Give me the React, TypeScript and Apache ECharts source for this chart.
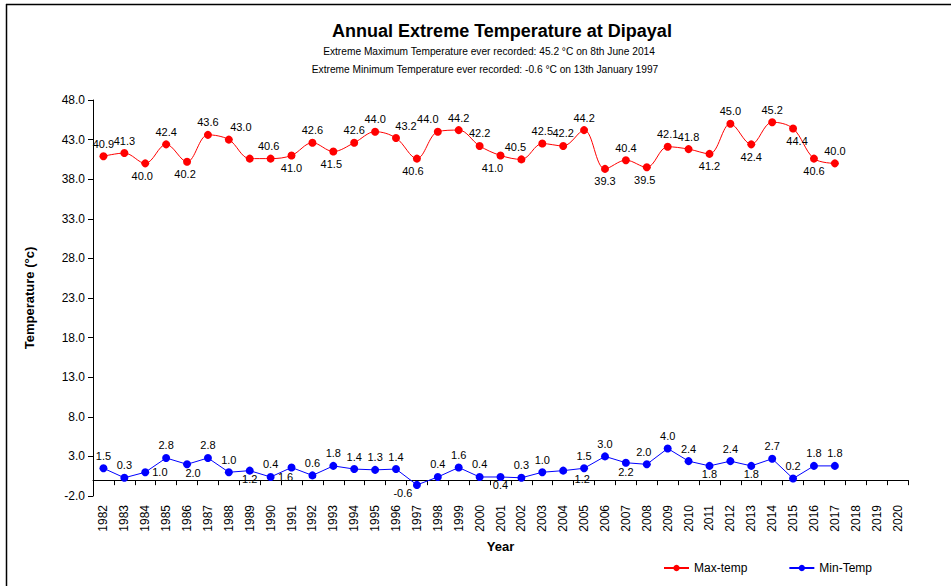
import React, { useEffect, useRef } from "react";
import * as echarts from "echarts";

const years = [
  "1982", "1983", "1984", "1985", "1986", "1987", "1988", "1989", "1990", "1991",
  "1992", "1993", "1994", "1995", "1996", "1997", "1998", "1999", "2000", "2001",
  "2002", "2003", "2004", "2005", "2006", "2007", "2008", "2009", "2010", "2011",
  "2012", "2013", "2014", "2015", "2016", "2017", "2018", "2019", "2020",
];

const maxTemp = [
  40.9, 41.3, 40.0, 42.4, 40.2, 43.6, 43.0, 40.6, 40.6, 41.0,
  42.6, 41.5, 42.6, 44.0, 43.2, 40.6, 44.0, 44.2, 42.2, 41.0,
  40.5, 42.5, 42.2, 44.2, 39.3, 40.4, 39.5, 42.1, 41.8, 41.2,
  45.0, 42.4, 45.2, 44.4, 40.6, 40.0,
];

const minTemp = [
  1.5, 0.3, 1.0, 2.8, 2.0, 2.8, 1.0, 1.2, 0.4, 1.6,
  0.6, 1.8, 1.4, 1.3, 1.4, -0.6, 0.4, 1.6, 0.4, 0.4,
  0.3, 1.0, 1.2, 1.5, 3.0, 2.2, 2.0, 4.0, 2.4, 1.8,
  2.4, 1.8, 2.7, 0.2, 1.8, 1.8,
];

const yAxisMin = -2;
const yAxisMax = 48;
const yStep = 5;

// label placement (style only): [position, dx, dy]
const maxLabelPlace: [string, number, number][] = [
  ["t", 0, 0], ["t", 0, 0], ["b", -3, 0], ["t", 0, 0], ["b", -2, 0], ["t", 0, 0], ["t", 12, 0], ["n", 0, 0], ["t", -2, 0], ["b", 0, 0],
  ["t", 0, 0], ["b", -2, 0], ["t", 0, 0], ["t", 0, 0], ["t", 10, 0], ["b", -4, 0], ["t", -10, 0], ["t", 0, 0], ["t", 0, 0], ["b", -8, 0],
  ["t", -6, 0], ["t", 0, 0], ["t", 0, 0], ["t", 0, 0], ["b", 0, 0], ["t", 0, 0], ["b", -2, 0], ["t", 0, 0], ["t", 0, 0], ["b", 0, 0],
  ["t", 0, 0], ["b", 0, 0], ["t", 0, 0], ["b", 4, 0], ["b", 0, 0], ["t", 0, 0],
];

const minLabelPlace: [string, number, number][] = [
  ["t", 0, 0], ["t", 0, 0], ["r", 0, 0], ["t", 0, 0], ["b", 6, -4], ["t", 0, 0], ["t", 0, 0], ["b", 0, -4], ["t", 0, 0], ["b", -6, -3],
  ["t", 0, 0], ["t", 0, 0], ["t", 0, 0], ["t", 0, 0], ["t", 0, 0], ["b", -14, -4], ["t", 0, 0], ["t", 0, 0], ["t", 0, 0], ["b", 0, -4],
  ["t", 0, 0], ["t", 0, 0], ["b", 19, -4], ["t", 0, 0], ["t", 0, 0], ["b", 0, -3], ["t", -3, 0], ["t", 0, 0], ["t", 0, 0], ["b", 0, -4],
  ["t", 0, 0], ["b", 0, -4], ["t", 0, 0], ["t", 0, 0], ["t", 0, 0], ["t", 0, 0],
];

const FONT = "'Liberation Sans', Arial, sans-serif";

function labelFor(place: [string, number, number]) {
  const [p, dx, dy] = place;
  if (p === "n") return { show: false };
  const position = p === "t" ? "top" : p === "b" ? "bottom" : p === "l" ? "left" : "right";
  return { show: true, position, offset: [dx, dy] };
}

export default function App() {
  const ref = useRef<HTMLDivElement>(null);

  useEffect(() => {
    if (!ref.current) return;
    const chart = echarts.init(ref.current, undefined, { renderer: "svg" });

    const commonLabel = {
      show: true,
      fontSize: 11,
      color: "#000",
      fontFamily: FONT,
      distance: 3,
      formatter: (p: any) => Number(p.value).toFixed(1),
    };

    chart.setOption({
      animation: false,
      backgroundColor: "#fff",
      textStyle: { fontFamily: FONT },
      grid: { left: 93, right: 43, top: 100, bottom: 90, containLabel: false },
      graphic: [
        {
          type: "line",
          shape: { x1: 6, y1: 4.5, x2: 951, y2: 4.5 },
          style: { stroke: "#000", lineWidth: 1.5 },
        },
        {
          type: "line",
          shape: { x1: 6.5, y1: 4, x2: 6.5, y2: 586 },
          style: { stroke: "#000", lineWidth: 1.5 },
        },
        {
          type: "text",
          x: 502,
          y: 31,
          style: {
            text: "Annual Extreme Temperature at Dipayal",
            font: `bold 18px ${FONT}`,
            fill: "#000",
            textAlign: "center",
            textVerticalAlign: "middle",
          },
        },
        {
          type: "text",
          x: 489,
          y: 51,
          style: {
            text: "Extreme Maximum Temperature ever recorded: 45.2 °C on 8th June 2014",
            font: `10.2px ${FONT}`,
            fill: "#000",
            textAlign: "center",
            textVerticalAlign: "middle",
          },
        },
        {
          type: "text",
          x: 485,
          y: 69,
          style: {
            text: "Extreme Minimum Temperature ever recorded: -0.6 °C on 13th January 1997",
            font: `10.2px ${FONT}`,
            fill: "#000",
            textAlign: "center",
            textVerticalAlign: "middle",
          },
        },
      ],
      legend: {
        left: 658,
        top: 557,
        itemWidth: 25,
        itemHeight: 8,
        itemGap: 41,
        textStyle: { fontSize: 12, color: "#000", fontFamily: FONT },
        data: ["Max-temp", "Min-Temp"],
      },
      xAxis: {
        type: "category",
        data: years,
        boundaryGap: true,
        name: "Year",
        nameLocation: "middle",
        nameGap: 42,
        nameTextStyle: { fontSize: 13, fontWeight: "bold", color: "#000", fontFamily: FONT },
        axisLine: { lineStyle: { color: "#000", width: 1 } },
        axisTick: { show: true, interval: 0, length: 5, lineStyle: { color: "#000" } },
        axisLabel: { interval: 0, rotate: 90, fontSize: 12, color: "#000", margin: 9, fontFamily: FONT },
        splitLine: { show: false },
      },
      yAxis: [
        {
          type: "value",
          min: yAxisMin,
          max: yAxisMax,
          show: false,
          splitLine: { show: false },
        },
        {
          type: "value",
          position: "left",
          min: 0,
          max: yAxisMax - yAxisMin,
          interval: yStep,
          name: "Temperature (°c)",
          nameLocation: "middle",
          nameGap: 57,
          nameTextStyle: { fontSize: 13, fontWeight: "bold", color: "#000", fontFamily: FONT },
          axisLine: { show: true, lineStyle: { color: "#000", width: 1 } },
          axisTick: { show: true, length: 5, lineStyle: { color: "#000" } },
          axisLabel: {
            fontSize: 12,
            color: "#000",
            margin: 8,
            fontFamily: FONT,
            formatter: (v: number) => (v + yAxisMin).toFixed(1),
          },
          splitLine: { show: false },
        },
      ],
      series: [
        {
          name: "Max-temp",
          type: "line",
          yAxisIndex: 0,
          smooth: 0.35,
          symbol: "circle",
          symbolSize: 8,
          itemStyle: { color: "#FF0000" },
          lineStyle: { color: "#FF0000", width: 1 },
          label: commonLabel,
          data: maxTemp.map((v, i) => ({ value: v, label: labelFor(maxLabelPlace[i]) })),
        },
        {
          name: "Min-Temp",
          type: "line",
          yAxisIndex: 0,
          smooth: false,
          symbol: "circle",
          symbolSize: 8,
          itemStyle: { color: "#0000FF" },
          lineStyle: { color: "#0000FF", width: 1 },
          label: commonLabel,
          data: minTemp.map((v, i) => ({ value: v, label: labelFor(minLabelPlace[i]) })),
        },
      ],
    });

    return () => chart.dispose();
  }, []);

  return (
    <div
      ref={ref}
      style={{ position: "fixed", left: 0, top: 0, width: 951, height: 586, background: "#fff" }}
    />
  );
}
